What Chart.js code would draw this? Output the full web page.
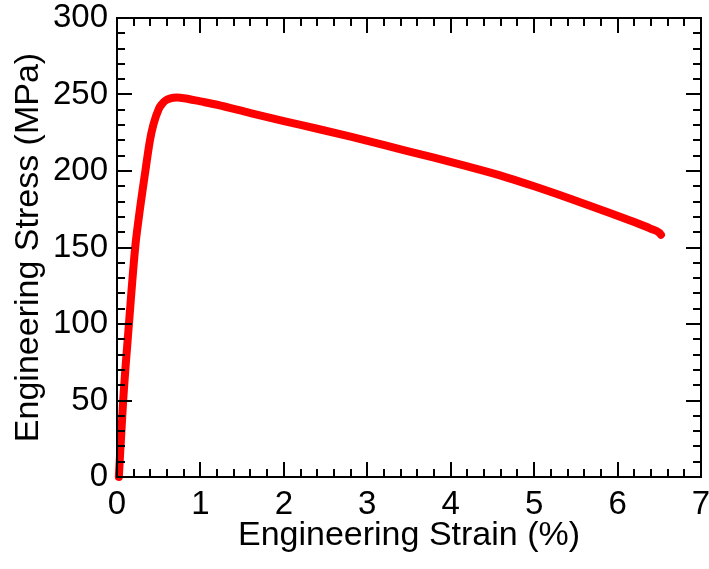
<!DOCTYPE html>
<html>
<head>
<meta charset="utf-8">
<script src="https://cdn.jsdelivr.net/npm/chart.js@4"></script>
<style>
  html, body { margin: 0; padding: 0; background: #fff; }
  #wrap { width: 709px; height: 569px; }
</style>
</head>
<body>
<div id="wrap"><canvas id="chart" width="709" height="569"></canvas></div>
<script>
// tensile test curve: engineering strain (%) vs engineering stress (MPa)
const strain = [0.022, 0.074, 0.143, 0.218, 0.26, 0.34, 0.395, 0.435, 0.5, 0.54, 0.58,
  0.64, 0.72, 0.8, 1.0, 1.2, 1.6, 2.0, 2.4, 2.8, 3.4, 3.8, 4.2, 4.6, 5.0,
  5.4, 5.8, 6.2, 6.4, 6.5, 6.52];
const stress = [0, 50, 100, 150, 169, 200, 220, 230, 240.5, 243.8, 246,
  247.5, 248, 247.6, 245.5, 243.3, 237.8, 232.6, 227.6, 222.4, 214.2, 208.7, 203, 197, 190,
  182.5, 174.7, 166.6, 162.2, 159.7, 158.3];

const xTicks = [0, 1, 2, 3, 4, 5, 6, 7];
const yTicks = [0, 50, 100, 150, 200, 250, 300];
const minorDiv = 5; // minor ticks per major interval

const points = strain.map((s, i) => ({ x: s, y: stress[i] }));

Chart.defaults.font.family = "'Liberation Sans', Arial, sans-serif";
Chart.defaults.color = '#000';

// inward ticks on all four sides plus the box frame
const frameTicks = {
  id: 'frameTicks',
  afterDraw(chart) {
    const { ctx, chartArea: a, scales: { x, y } } = chart;
    ctx.save();
    ctx.strokeStyle = '#000';
    ctx.lineWidth = 2;
    ctx.beginPath();
    for (let i = 0; i < xTicks.length; i++) {
      const v = xTicks[i];
      const px = Math.round(x.getPixelForValue(v));
      ctx.moveTo(px, a.bottom); ctx.lineTo(px, a.bottom - 15);
      ctx.moveTo(px, a.top); ctx.lineTo(px, a.top + 15);
      if (i < xTicks.length - 1) {
        const step = (xTicks[i + 1] - v) / minorDiv;
        for (let k = 1; k < minorDiv; k++) {
          const mx = Math.round(x.getPixelForValue(v + k * step));
          ctx.moveTo(mx, a.bottom); ctx.lineTo(mx, a.bottom - 8);
          ctx.moveTo(mx, a.top); ctx.lineTo(mx, a.top + 8);
        }
      }
    }
    for (let i = 0; i < yTicks.length; i++) {
      const v = yTicks[i];
      const py = Math.round(y.getPixelForValue(v));
      ctx.moveTo(a.left, py); ctx.lineTo(a.left + 15, py);
      ctx.moveTo(a.right, py); ctx.lineTo(a.right - 15, py);
      if (i < yTicks.length - 1) {
        const step = (yTicks[i + 1] - v) / minorDiv;
        for (let k = 1; k < minorDiv; k++) {
          const my = Math.round(y.getPixelForValue(v + k * step));
          ctx.moveTo(a.left, my); ctx.lineTo(a.left + 8, my);
          ctx.moveTo(a.right, my); ctx.lineTo(a.right - 8, my);
        }
      }
    }
    ctx.stroke();
    ctx.strokeRect(a.left, a.top, a.right - a.left, a.bottom - a.top);
    ctx.restore();
  }
};

// fixed axis sizes, no extra room for labels that hang past the plot box
function fixBox(s, w, h) {
  if (w) s.width = w;
  if (h) s.height = h;
  s.paddingTop = 0; s.paddingBottom = 0; s.paddingLeft = 0; s.paddingRight = 0;
}

new Chart(document.getElementById('chart'), {
  type: 'line',
  data: {
    datasets: [{
      data: points,
      borderColor: '#ff0000',
      borderWidth: 8,
      pointRadius: 0,
      cubicInterpolationMode: 'monotone',
      borderCapStyle: 'round',
      borderJoinStyle: 'round',
      clip: false
    }]
  },
  options: {
    responsive: false,
    animation: false,
    devicePixelRatio: 1,
    layout: { padding: { top: 18, right: 8, left: 0, bottom: 0 } },
    plugins: { legend: { display: false }, tooltip: { enabled: false } },
    scales: {
      x: {
        type: 'linear',
        min: 0,
        max: 7,
        afterBuildTicks: s => { s.ticks = xTicks.map(v => ({ value: v })); },
        afterFit: s => fixBox(s, 0, 92),
        ticks: { font: { size: 33 }, padding: 8, maxRotation: 0 },
        grid: { display: false, drawTicks: false },
        border: { display: false },
        title: {
          display: true,
          text: 'Engineering Strain (%)',
          font: { size: 34 },
          padding: { top: 0, bottom: 13 }
        }
      },
      y: {
        type: 'linear',
        min: 0,
        max: 300,
        afterBuildTicks: s => { s.ticks = yTicks.map(v => ({ value: v })); },
        afterFit: s => fixBox(s, 117, 0),
        ticks: { font: { size: 33 }, padding: 9 },
        grid: { display: false, drawTicks: false },
        border: { display: false },
        title: {
          display: true,
          text: 'Engineering Stress (MPa)',
          font: { size: 34 },
          padding: { top: 8, bottom: 0 }
        }
      }
    }
  },
  plugins: [frameTicks]
});
</script>
</body>
</html>
